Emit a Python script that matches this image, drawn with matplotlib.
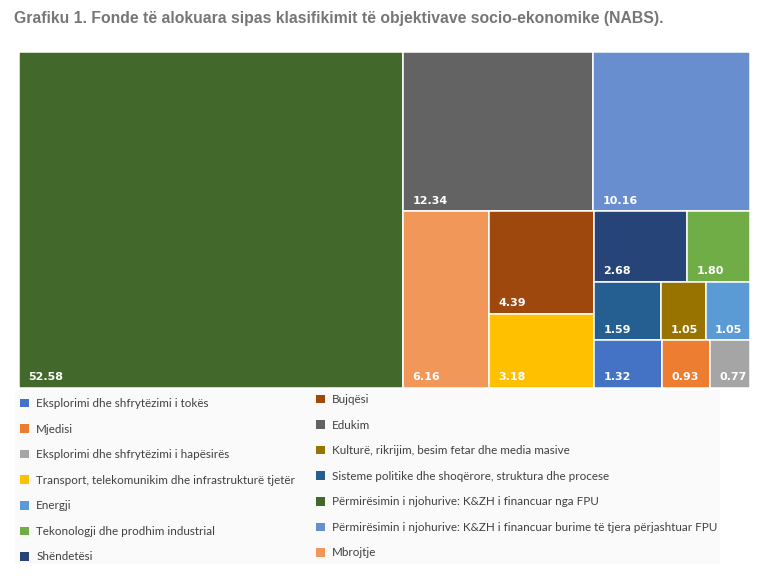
import matplotlib
matplotlib.use("Agg")
import matplotlib.pyplot as plt
from matplotlib.patches import Rectangle, Patch

categories = [
    "Eksplorimi dhe shfrytëzimi i tokës",
    "Mjedisi",
    "Eksplorimi dhe shfrytëzimi i hapësirës",
    "Transport, telekomunikim dhe infrastrukturë tjetër",
    "Energji",
    "Tekonologji dhe prodhim industrial",
    "Shëndetësi",
    "Bujqësi",
    "Edukim",
    "Kulturë, rikrijim, besim fetar dhe media masive",
    "Sisteme politike dhe shoqërore, struktura dhe procese",
    "Përmirësimin i njohurive: K&ZH i financuar nga FPU",
    "Përmirësimin i njohurive: K&ZH i financuar burime të tjera përjashtuar FPU",
    "Mbrojtje",
]
values = [1.32, 0.93, 0.77, 3.18, 1.05, 1.80, 2.68, 4.39, 12.34, 1.05, 1.59, 52.58, 10.16, 6.16]
colors = ["#4472C4", "#ED7D31", "#A5A5A5", "#FFC000", "#5B9BD5", "#70AD47", "#264478",
          "#9E480E", "#636363", "#997300", "#255E91", "#43682B", "#698ED0", "#F1975A"]

# nesting of the treemap (indices into categories), split direction alternates
tree = [11, [[8, 12], [13, [7, 3], [[6, 5], [10, 9, 4], [0, 1, 2]]]]]


def total(node):
    if isinstance(node, int):
        return values[node]
    return sum(total(c) for c in node)


def layout(node, x, y, w, h, across, out):
    if isinstance(node, int):
        out.append((node, x, y, w, h))
        return
    t = total(node)
    pos = 0.0
    for c in node:
        f = total(c) / t
        if across:
            layout(c, x + pos * w, y, f * w, h, not across, out)
        else:
            layout(c, x, y + pos * h, w, f * h, not across, out)
        pos += f


W, H = 766, 576
fig = plt.figure(figsize=(W / 100, H / 100), dpi=100)
fig.patch.set_facecolor("white")

fig.text(14 / W, 1 - 18 / H,
         "Grafiku 1. Fonde të alokuara sipas klasifikimit të objektivave socio-ekonomike (NABS).",
         ha="left", va="center", color="#767676", fontsize=11.3, fontweight="bold",
         family=["Liberation Sans Narrow", "Liberation Sans", "DejaVu Sans"])

ax = fig.add_axes([19 / W, 1 - 388 / H, 731 / W, 336 / H])
ax.set_xlim(0, 1)
ax.set_ylim(1, 0)
ax.axis("off")

rects = []
layout(tree, 0, 0, 1, 1, True, rects)
for i, x, y, w, h in rects:
    ax.add_patch(Rectangle((x, y), w, h, facecolor=colors[i], edgecolor="white", linewidth=1.1))
    ax.annotate(f"{values[i]:.2f}", xy=(x, y + h), xytext=(6.5, 5.5), textcoords="offset points",
                ha="left", va="baseline", color="white", fontsize=8, fontweight="bold")

# legend background
fig.patches.append(Rectangle((15 / W, 1 - 564 / H), 705 / W, 174 / H, transform=fig.transFigure,
                             facecolor="#FAFAFA", edgecolor="none", zorder=0))

handles = [Patch(facecolor=c, edgecolor="none") for c in colors]
leg_kw = dict(loc="upper left", frameon=False, handlelength=0.75, handleheight=0.75,
              handletextpad=0.65, labelspacing=1.25, borderaxespad=0, borderpad=0,
              prop={"family": ["Lato", "DejaVu Sans"], "size": 8.4})
l1 = fig.legend(handles[:7], categories[:7], bbox_to_anchor=(20 / W, 1 - 398 / H), **leg_kw)
l2 = fig.legend(handles[7:], categories[7:], bbox_to_anchor=(316 / W, 1 - 394 / H), **leg_kw)
for leg in (l1, l2):
    for t in leg.get_texts():
        t.set_color("#404040")

fig.savefig("out.png", dpi=100)
